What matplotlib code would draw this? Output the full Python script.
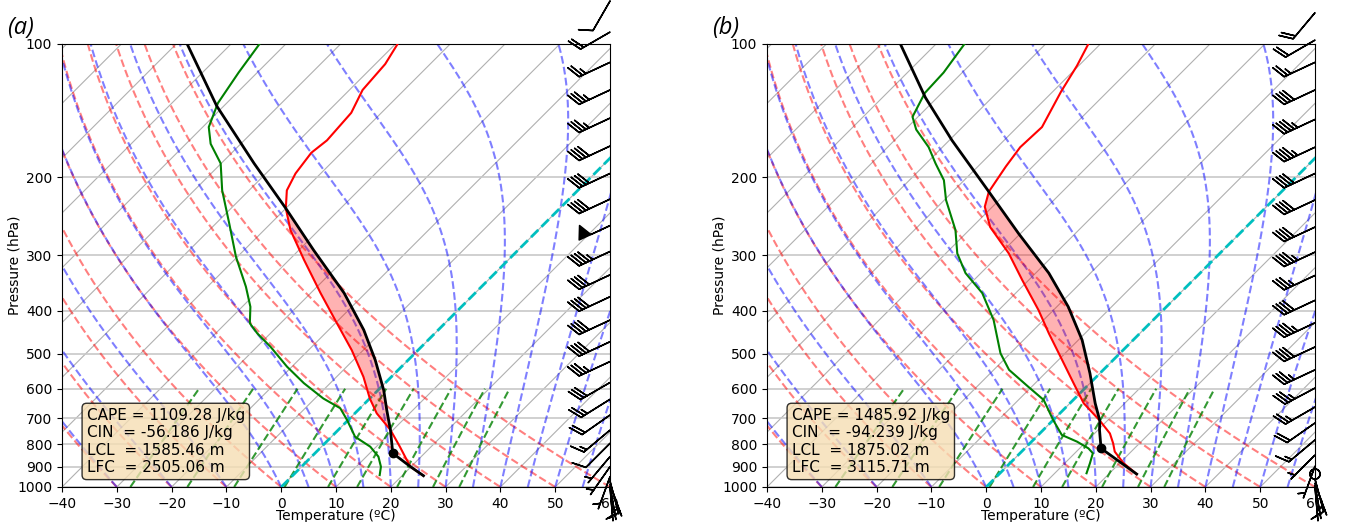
import numpy as np
import matplotlib
matplotlib.use('Agg')
import matplotlib.pyplot as plt
from matplotlib import transforms
from matplotlib.ticker import FixedLocator, ScalarFormatter, NullLocator

# ---- sounding (a): pressure (hPa), temperature (degC)
pres_t_a = [943, 900, 884, 811, 743, 682, 631, 564, 491, 420, 365, 307, 263, 235, 214, 196, 176, 165, 143, 127, 111, 100]
temp_a = [23.9, 19.9, 18.9, 14.3, 9.5, 4.0, 0.0, -5.1, -12.1, -20.6, -28.2, -37.3, -45.2, -50.0, -53.1, -54.6, -55.5, -54.9, -55.5, -57.6, -58.2, -59.6]
pres_td_a = [940, 900, 854, 811, 770, 706, 664, 631, 583, 535, 482, 450, 427, 392, 353, 302, 254, 214, 186, 168, 154, 136, 116, 100]
dew_a = [15.8, 14.5, 12.2, 8.9, 4.3, -0.2, -3.6, -8.5, -14.8, -20.9, -27.6, -32.4, -35.6, -38.5, -43.0, -50.3, -57.6, -64.9, -70.1, -75.5, -78.9, -81.6, -83.4, -84.8]
pres_prof_a = [943, 900, 839, 743, 670, 604, 517, 442, 365, 292, 235, 186, 138, 100]
prof_a = [23.9, 19.9, 14.2, 9.5, 5.2, 1.0, -6.0, -13.6, -23.9, -37.3, -50.0, -64.0, -81.3, -98.0]
lcl_a = (839, 14.2)
lfc_a, el_a = 743, 235

# ---- sounding (b)
pres_t_b = [935, 882, 832, 797, 757, 708, 647, 583, 517, 450, 399, 341, 297, 259, 233, 215.5, 189, 171, 154, 128, 112, 100]
temp_b = [25.1, 20.6, 17.0, 15.2, 12.8, 8.6, 2.5, -3.0, -9.3, -16.6, -22.7, -31.2, -38.5, -46.7, -51.4, -53.4, -54.9, -55.8, -55.5, -58.5, -60.3, -62.2]
pres_td_b = [931, 884, 839, 818, 790, 763, 706, 636, 594, 544, 499, 420, 365, 329, 297, 263, 225, 203, 186, 171, 156, 146, 129, 116, 100]
dew_b = [15.8, 14.6, 13.3, 11.6, 8.3, 4.3, 0.0, -5.4, -10.6, -17.2, -21.8, -29.1, -36.1, -42.8, -47.9, -52.5, -59.7, -63.7, -68.3, -72.5, -78.0, -81.0, -83.1, -83.4, -84.8]
pres_prof_b = [935, 818, 744, 708, 647, 554, 466, 392, 329, 268, 215.5, 165, 132, 100]
prof_b = [25.1, 13.9, 10.3, 8.6, 4.6, -1.8, -9.3, -17.9, -27.6, -40.3, -53.4, -69.5, -82.2, -96.5]
lcl_b = (818, 13.9)
lfc_b, el_b = 708, 215.5

# ---- wind barbs (kt, direction deg)
p_barb_a = [80, 94, 110, 127, 147, 170, 196, 224, 257, 294, 332, 372, 420, 470, 521, 581, 634, 688, 744, 797, 854, 900, 948, 970, 985, 995, 1000]
spd_a = [10, 20, 25, 35, 35, 40, 40, 40, 50, 45, 40, 40, 40, 40, 35, 30, 25, 20, 15, 10, 5, 5, 5, 5, 5, 5, 5]
dir_a = [210, 240, 245, 245, 245, 245, 245, 245, 245, 245, 245, 245, 245, 245, 245, 240, 238, 235, 230, 225, 220, 215, 200, 165, 160, 170, 175]
p_barb_b = [85, 98, 110, 127, 148, 171, 196, 225, 259, 295, 333, 379, 426, 483, 544, 598, 660, 717, 783, 847, 897, 935, 960, 980, 990, 1000]
spd_b = [20, 20, 25, 40, 45, 45, 40, 40, 40, 45, 35, 40, 45, 40, 35, 35, 25, 20, 15, 5, 5, 0, 5, 5, 5, 5]
dir_b = [220, 240, 245, 245, 245, 245, 245, 245, 245, 245, 245, 245, 245, 245, 245, 242, 240, 235, 230, 225, 200, 0, 165, 160, 170, 175]

labels = ['(a)', '(b)']
cape = ['1109.28', '1485.92']
cin = ['-56.186', '-94.239']
lcl_h = ['1585.46', '1875.02']
lfc_h = ['2505.06', '3115.71']

# background reference lines (starting temperatures at 1000 hPa, degC)
dry_t0 = [-40, -30, -20, -10, 0, 10, 20, 30, 40, 50, 60]
moist_t0 = [-40, -30, -20, -10, 0, 5, 10, 15, 20, 25, 30, 35, 40, 45, 50, 55, 60]
mix_w = [0.0004, 0.001, 0.002, 0.004, 0.007, 0.01, 0.016, 0.024, 0.032]

Rd, Cp, Lv, eps = 287.04749, 1004.67, 2.501e6, 0.622


def es(tc):
    return 6.112 * np.exp(17.67 * tc / (tc + 243.5))


def dtdp(p, T):
    e = es(T - 273.15)
    rs = eps * e / (p - e)
    return (Rd * T + Lv * rs) / (Cp + Lv * Lv * rs * eps / (Rd * T * T)) / p


def moist_line(t0, pres):
    T = [t0 + 273.15]
    for i in range(1, len(pres)):
        h = pres[i] - pres[i - 1]
        p, t = pres[i - 1], T[-1]
        k1 = dtdp(p, t)
        k2 = dtdp(p + h / 2, t + h / 2 * k1)
        k3 = dtdp(p + h / 2, t + h / 2 * k2)
        k4 = dtdp(p + h, t + h * k3)
        T.append(t + h / 6 * (k1 + 2 * k2 + 2 * k3 + k4))
    return np.array(T) - 273.15


fig = plt.figure(figsize=(13.46, 5.22), dpi=100)
lefts = [62 / 1346, 767 / 1346]
W, H = 548 / 1346, 443 / 522
pp = np.linspace(1000, 100, 200)
pm = np.linspace(1000, 600, 50)

soundings = [
    (pres_t_a, temp_a, pres_td_a, dew_a, pres_prof_a, prof_a, lcl_a, lfc_a, el_a, p_barb_a, spd_a, dir_a),
    (pres_t_b, temp_b, pres_td_b, dew_b, pres_prof_b, prof_b, lcl_b, lfc_b, el_b, p_barb_b, spd_b, dir_b),
]

for i, (pt, tt, pd, td, ppr, tpr, lcl, lfc, el, pb, sb, db) in enumerate(soundings):
    ax = fig.add_axes([lefts[i], 35 / 522, W, H])
    ax.set_yscale('log')
    ax.set_xlim(-40, 60)
    ax.set_ylim(1000, 100)
    ax.yaxis.set_major_locator(FixedLocator(np.arange(100, 1001, 100)))
    ax.yaxis.set_major_formatter(ScalarFormatter())
    ax.yaxis.set_minor_locator(NullLocator())
    ax.set_xticks(np.arange(-40, 61, 10))
    ax.yaxis.grid(True, color='#c8c8c8', lw=1.2)

    # skew of 45 degrees in pixel space
    skew = ax.transScale + (ax.transLimits + transforms.Affine2D().skew(np.arctan(H * 522 / (W * 1346)), 0)) + ax.transAxes

    for t in range(-130, 61, 10):
        ax.plot([t, t], [1000, 100], color='#b0b0b0', lw=0.8, transform=skew, zorder=1)
    for t0 in dry_t0:
        tl = (t0 + 273.15) * (pp / 1000) ** (Rd / Cp) - 273.15
        ax.plot(tl, pp, color='r', ls='--', lw=1.5, alpha=0.5, transform=skew, zorder=2)
    for t0 in moist_t0:
        ax.plot(moist_line(t0, pp), pp, color='b', ls='--', lw=1.5, alpha=0.5, transform=skew, zorder=2)
    for w in mix_w:
        e = w * pm / (eps + w)
        lg = np.log(e / 6.112)
        ax.plot(243.5 * lg / (17.67 - lg), pm, color='g', ls='--', lw=1.5, alpha=0.8, transform=skew, zorder=2)
    ax.plot([0, 0], [1000, 100], color='c', ls='--', lw=2, transform=skew, zorder=3)

    # CAPE area: parcel up from LFC to EL, environment back down
    pp_arr, tp_arr = np.array(ppr), np.array(tpr)
    pe_arr, te_arr = np.array(pt), np.array(tt)
    m1 = (pp_arr <= lfc) & (pp_arr >= el)
    m2 = (pe_arr <= lfc) & (pe_arr >= el)
    xs = np.concatenate([tp_arr[m1], te_arr[m2][::-1]])
    ys = np.concatenate([pp_arr[m1], pe_arr[m2][::-1]])
    ax.fill(xs, ys, color='r', alpha=0.3, lw=0, transform=skew, zorder=4)

    ax.plot(tt, pt, color='r', lw=1.5, transform=skew, zorder=5)
    ax.plot(td, pd, color='g', lw=1.5, transform=skew, zorder=5)
    ax.plot(tpr, ppr, color='k', lw=2, transform=skew, zorder=6)
    ax.plot([lcl[1]], [lcl[0]], 'ko', ms=6, transform=skew, zorder=7)

    sb, db = np.array(sb, float), np.radians(db)
    ax.barbs(np.ones(len(pb)), pb, -sb * np.sin(db), -sb * np.cos(db),
             transform=ax.get_yaxis_transform(), clip_on=False, length=7, lw=1.1,
             sizes=dict(height=0.38, width=0.38, spacing=0.11), zorder=8)

    txt = ('CAPE = ' + cape[i] + ' J/kg\nCIN  = ' + cin[i] + ' J/kg\n'
           'LCL  = ' + lcl_h[i] + ' m\nLFC  = ' + lfc_h[i] + ' m')
    ax.text(0.045, 0.027, txt, transform=ax.transAxes, fontsize=11, va='bottom', zorder=9,
            bbox=dict(boxstyle='round', facecolor='wheat', alpha=0.8))

    ax.set_xlabel('Temperature (ºC)', labelpad=-1)
    ax.set_ylabel('Pressure (hPa)', labelpad=-3)
    fig.text(lefts[i] - 55 / 1346, 0.935, labels[i], fontsize=17, style='italic', family='Open Sans')

fig.savefig('out.png', dpi=100)
